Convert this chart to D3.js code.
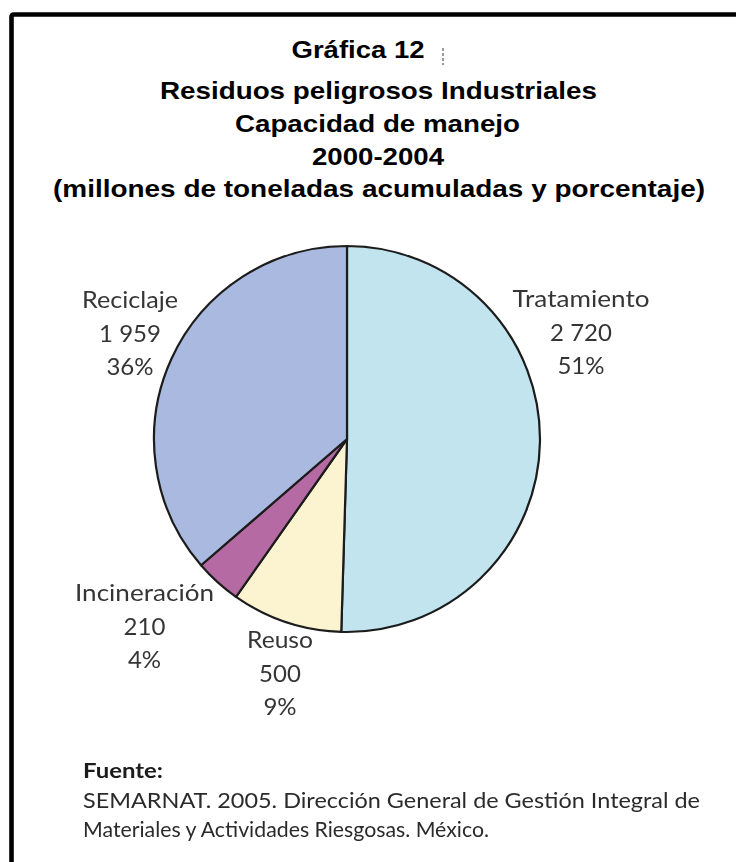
<!DOCTYPE html>
<html>
<head>
<meta charset="utf-8">
<script src="https://cdn.jsdelivr.net/npm/d3@7/dist/d3.min.js"></script>
<style>
  html, body { margin: 0; padding: 0; background: #ffffff; }
  svg { display: block; }
</style>
</head>
<body>
<script>
// Capacidad de manejo de residuos peligrosos industriales, 2000-2004
const categories = ["Tratamiento", "Reuso", "Incineración", "Reciclaje"];
const values = [2720, 500, 210, 1959];   // millones de toneladas acumuladas
const shares = [51, 9, 4, 36];           // porcentaje publicado
const colors = ["#c1e4ef", "#fcf4d1", "#b66ba3", "#a9b9df"];

const titleLines = [
  "Gráfica 12",
  "Residuos peligrosos Industriales",
  "Capacidad de manejo",
  "2000-2004",
  "(millones de toneladas acumuladas y porcentaje)"
];
const sourceHead = "Fuente:";
const sourceLines = [
  "SEMARNAT. 2005. Dirección General de Gestión Integral de",
  "Materiales y Actividades Riesgosas. México."
];

const W = 736, H = 862;
const svg = d3.select("body").append("svg")
  .attr("width", W).attr("height", H);

const defs = svg.append("defs");
defs.append("filter").attr("id", "soft")
  .attr("x", "-5%").attr("y", "-5%").attr("width", "110%").attr("height", "110%")
  .append("feGaussianBlur").attr("stdDeviation", 0.55);

// frame
svg.append("rect")
  .attr("x", 11.5).attr("y", 14.5)
  .attr("width", W + 20).attr("height", H + 20)
  .attr("rx", 2)
  .attr("fill", "none")
  .attr("stroke", "#000")
  .attr("stroke-width", 4.6);

// title block
const titleLayout = [
  { x: 358, y: 58, w: 133 },
  { x: 378.5, y: 99, w: 437 },
  { x: 377.5, y: 132, w: 285 },
  { x: 378, y: 165, w: 132 },
  { x: 379, y: 197, w: 652 }
];
svg.append("g").selectAll("text")
  .data(titleLines)
  .join("text")
  .attr("x", (d, i) => titleLayout[i].x)
  .attr("y", (d, i) => titleLayout[i].y)
  .attr("text-anchor", "middle")
  .attr("font-family", "'Liberation Sans', Arial, sans-serif")
  .attr("font-weight", "bold")
  .attr("font-size", 24)
  .attr("fill", "#000")
  .attr("textLength", (d, i) => titleLayout[i].w)
  .attr("lengthAdjust", "spacingAndGlyphs")
  .text(d => d);

// small dotted mark after the first title line
svg.append("line")
  .attr("x1", 443).attr("x2", 443)
  .attr("y1", 48).attr("y2", 65)
  .attr("stroke", "#333").attr("stroke-width", 1)
  .attr("stroke-dasharray", "3,2");

// pie
const cx = 347, cy = 439, R = 193;
const pie = d3.pie().sort(null).value(d => d.value).startAngle(0).endAngle(2 * Math.PI);
const arc = d3.arc().innerRadius(0).outerRadius(R);
const slices = pie(categories.map((c, i) => ({
  name: c, value: values[i], share: shares[i], color: colors[i]
})));

const chart = svg.append("g").attr("filter", "url(#soft)");
chart.append("g")
  .attr("transform", `translate(${cx},${cy})`)
  .selectAll("path")
  .data(slices)
  .join("path")
  .attr("d", arc)
  .attr("fill", d => d.data.color)
  .attr("stroke", "#1c1c1c")
  .attr("stroke-width", 2.2)
  .attr("stroke-linejoin", "round");

// slice labels: name, amount, share
const numFmt = d3.formatLocale({ decimal: ".", thousands: " ", grouping: [3], currency: ["", ""] }).format(",d");
const labelLayout = {
  "Tratamiento":  { x: 581, y: 307, w: 137 },
  "Reuso":        { x: 280, y: 648, w: 66 },
  "Incineración": { x: 144.5, y: 601, w: 139 },
  "Reciclaje":    { x: 130, y: 308, w: 96 }
};
const lineGap = 33.5;
const labels = chart.append("g")
  .attr("font-family", "Lato, 'Open Sans', sans-serif")
  .attr("font-size", 24)
  .attr("fill", "#363636")
  .attr("text-anchor", "middle");
slices.forEach(s => {
  const L = labelLayout[s.data.name];
  const rows = [s.data.name, numFmt(s.data.value), s.data.share + "%"];
  rows.forEach((t, i) => {
    const el = labels.append("text")
      .attr("x", L.x)
      .attr("y", L.y + i * lineGap)
      .text(t);
    if (i === 0) el.attr("textLength", L.w).attr("lengthAdjust", "spacingAndGlyphs");
  });
});

// source note
const src = svg.append("g")
  .attr("filter", "url(#soft)")
  .attr("font-family", "Lato, 'Open Sans', sans-serif")
  .attr("fill", "#2b2b2b");
src.append("text")
  .attr("x", 83).attr("y", 778)
  .attr("font-size", 21)
  .attr("font-weight", "bold")
  .attr("fill", "#1a1a1a")
  .attr("textLength", 80)
  .attr("lengthAdjust", "spacingAndGlyphs")
  .text(sourceHead);
const srcW = [617, 406];
src.selectAll("text.line")
  .data(sourceLines)
  .join("text")
  .attr("class", "line")
  .attr("x", 83)
  .attr("y", (d, i) => 808 + i * 29)
  .attr("font-size", 21)
  .attr("textLength", (d, i) => srcW[i])
  .attr("lengthAdjust", "spacingAndGlyphs")
  .text(d => d);
</script>
</body>
</html>
